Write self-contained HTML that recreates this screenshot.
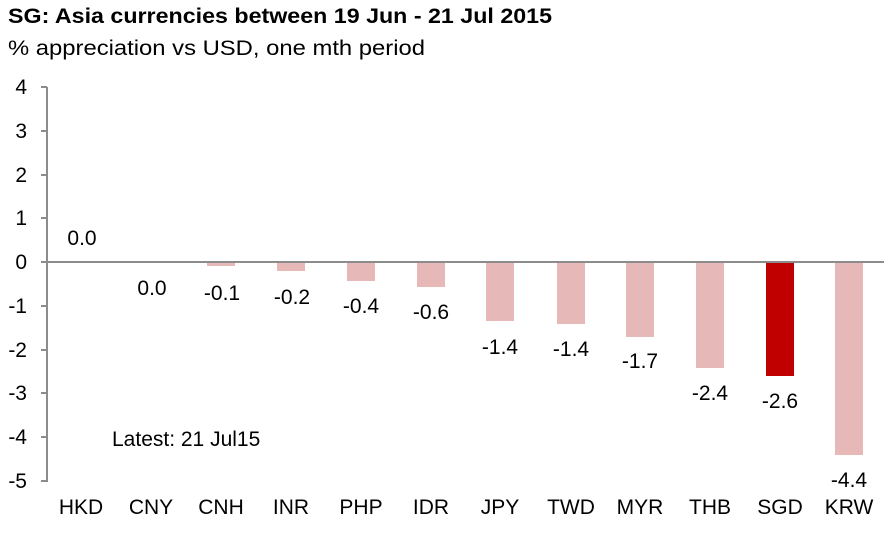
<!DOCTYPE html>
<html><head><meta charset="utf-8"><style>
body{margin:0;background:#fff;width:895px;height:549px;overflow:hidden;font-family:"Liberation Sans",sans-serif}
</style></head><body>
<svg width="895" height="549" xmlns="http://www.w3.org/2000/svg" font-family="Liberation Sans, sans-serif">
<text x="8" y="23" font-size="21" font-weight="bold" fill="#000" textLength="544" lengthAdjust="spacingAndGlyphs">SG: Asia currencies between 19 Jun - 21 Jul 2015</text>
<text x="8" y="55" font-size="21" fill="#000" textLength="417" lengthAdjust="spacingAndGlyphs">% appreciation vs USD, one mth period</text>
<g fill="#e6b8b8">
<rect x="207" y="262" width="28" height="4"/>
<rect x="277" y="262" width="28" height="9"/>
<rect x="347" y="262" width="28" height="19"/>
<rect x="417" y="262" width="28" height="25"/>
<rect x="486" y="262" width="28" height="59"/>
<rect x="557" y="262" width="28" height="62"/>
<rect x="626" y="262" width="28" height="75"/>
<rect x="696" y="262" width="28" height="106"/>
<rect x="835" y="262" width="28" height="193"/>
</g>
<rect x="766" y="262" width="28" height="114" fill="#c00000"/>
<g stroke="#8c8c8c" stroke-width="2">
<line x1="47" y1="87" x2="47" y2="482"/>
<line x1="41" y1="262" x2="884" y2="262"/>
<line x1="41" y1="87" x2="47" y2="87"/><line x1="41" y1="131" x2="47" y2="131"/>
<line x1="41" y1="175" x2="47" y2="175"/><line x1="41" y1="218" x2="47" y2="218"/>
<line x1="41" y1="306" x2="47" y2="306"/><line x1="41" y1="350" x2="47" y2="350"/>
<line x1="41" y1="393" x2="47" y2="393"/><line x1="41" y1="437" x2="47" y2="437"/>
<line x1="41" y1="481" x2="47" y2="481"/>
</g>
<g font-size="21" text-anchor="end" fill="#000">
<text x="27" y="94">4</text><text x="27" y="138">3</text><text x="27" y="182">2</text>
<text x="27" y="225">1</text><text x="27" y="269">0</text><text x="27" y="313">-1</text>
<text x="27" y="357">-2</text><text x="27" y="400">-3</text><text x="27" y="444">-4</text>
<text x="27" y="488">-5</text>
</g>
<g font-size="21" text-anchor="middle" fill="#000">
<text x="82" y="245">0.0</text><text x="152" y="295">0.0</text><text x="222" y="300">-0.1</text>
<text x="292" y="304">-0.2</text><text x="361" y="313">-0.4</text><text x="431" y="319">-0.6</text>
<text x="500" y="354">-1.4</text><text x="571" y="356">-1.4</text><text x="640" y="368">-1.7</text>
<text x="710" y="400">-2.4</text><text x="780" y="408">-2.6</text><text x="849" y="487">-4.4</text>
</g>
<g font-size="21" text-anchor="middle" fill="#000">
<text x="81" y="514">HKD</text><text x="151" y="514">CNY</text><text x="221" y="514">CNH</text>
<text x="291" y="514">INR</text><text x="361" y="514">PHP</text><text x="431" y="514">IDR</text>
<text x="500" y="514">JPY</text><text x="571" y="514">TWD</text><text x="640" y="514">MYR</text>
<text x="710" y="514">THB</text><text x="780" y="514">SGD</text><text x="849" y="514">KRW</text>
</g>
<text x="112" y="446" font-size="21" fill="#000">Latest: 21 Jul15</text>
</svg>
</body></html>
